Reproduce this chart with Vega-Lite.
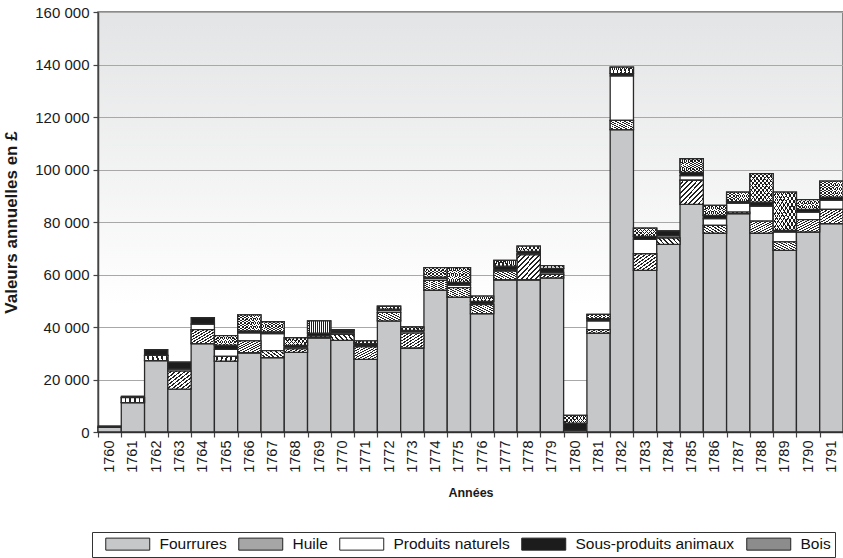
{
  "$schema": "https://vega.github.io/schema/vega-lite/v6.json",
  "width": 745,
  "height": 420,
  "autosize": {"type": "none"},
  "padding": {"left": 98, "top": 12, "right": 0, "bottom": 126},
  "background": "white",
  "config": {
    "font": "Liberation Sans",
    "view": {
      "stroke": "#666666",
      "strokeWidth": 1.5,
      "fill": {"gradient": "linear", "x1": 0, "y1": 0, "x2": 0, "y2": 1, "stops": [{"offset": 0, "color": "#e3e4e5"}, {"offset": 0.7, "color": "#ffffff"}, {"offset": 1, "color": "#ffffff"}]}
    },
    "axis": {
      "domainColor": "#444444",
      "domainWidth": 1.5,
      "tickColor": "#444444",
      "tickWidth": 1.2,
      "tickSize": 5,
      "labelColor": "#1a1a1a",
      "titleColor": "#1a1a1a",
      "titleFontWeight": "bold"
    }
  },
  "data": {
    "values": [
      {"year": "1760", "Fourrures": 1800, "Huile": 0, "Produits naturels": 0, "Sous-produits animaux": 400, "Bois": 0},
      {"year": "1761", "Fourrures": 11200, "Huile": 1900, "Produits naturels": 0, "Sous-produits animaux": 500, "Bois": 0},
      {"year": "1762", "Fourrures": 27200, "Huile": 2000, "Produits naturels": 0, "Sous-produits animaux": 2200, "Bois": 0},
      {"year": "1763", "Fourrures": 16300, "Huile": 6900, "Produits naturels": 800, "Sous-produits animaux": 2600, "Bois": 0},
      {"year": "1764", "Fourrures": 33700, "Huile": 5300, "Produits naturels": 2100, "Sous-produits animaux": 2500, "Bois": 0},
      {"year": "1765", "Fourrures": 27000, "Huile": 1800, "Produits naturels": 2700, "Sous-produits animaux": 1600, "Bois": 3600},
      {"year": "1766", "Fourrures": 30200, "Huile": 4500, "Produits naturels": 3100, "Sous-produits animaux": 700, "Bois": 6100},
      {"year": "1767", "Fourrures": 28300, "Huile": 2700, "Produits naturels": 6500, "Sous-produits animaux": 600, "Bois": 3900},
      {"year": "1768", "Fourrures": 30300, "Huile": 1400, "Produits naturels": 600, "Sous-produits animaux": 700, "Bois": 2900},
      {"year": "1769", "Fourrures": 35900, "Huile": 600, "Produits naturels": 0, "Sous-produits animaux": 1200, "Bois": 4600},
      {"year": "1770", "Fourrures": 34900, "Huile": 2300, "Produits naturels": 600, "Sous-produits animaux": 800, "Bois": 400},
      {"year": "1771", "Fourrures": 27700, "Huile": 4700, "Produits naturels": 300, "Sous-produits animaux": 1000, "Bois": 1000},
      {"year": "1772", "Fourrures": 42300, "Huile": 3300, "Produits naturels": 700, "Sous-produits animaux": 500, "Bois": 1100},
      {"year": "1773", "Fourrures": 32000, "Huile": 5700, "Produits naturels": 600, "Sous-produits animaux": 400, "Bois": 1300},
      {"year": "1774", "Fourrures": 54000, "Huile": 3800, "Produits naturels": 700, "Sous-produits animaux": 500, "Bois": 3600},
      {"year": "1775", "Fourrures": 51400, "Huile": 3600, "Produits naturels": 1000, "Sous-produits animaux": 1000, "Bois": 5600},
      {"year": "1776", "Fourrures": 45100, "Huile": 3400, "Produits naturels": 300, "Sous-produits animaux": 1000, "Bois": 2000},
      {"year": "1777", "Fourrures": 58000, "Huile": 3300, "Produits naturels": 500, "Sous-produits animaux": 1400, "Bois": 2200},
      {"year": "1778", "Fourrures": 58000, "Huile": 9500, "Produits naturels": 500, "Sous-produits animaux": 800, "Bois": 2000},
      {"year": "1779", "Fourrures": 58700, "Huile": 1400, "Produits naturels": 700, "Sous-produits animaux": 1500, "Bois": 1100},
      {"year": "1780", "Fourrures": 600, "Huile": 0, "Produits naturels": 0, "Sous-produits animaux": 2800, "Bois": 2900},
      {"year": "1781", "Fourrures": 37700, "Huile": 1300, "Produits naturels": 3300, "Sous-produits animaux": 900, "Bois": 1600},
      {"year": "1782", "Fourrures": 115200, "Huile": 3500, "Produits naturels": 17000, "Sous-produits animaux": 800, "Bois": 2500},
      {"year": "1783", "Fourrures": 61600, "Huile": 6300, "Produits naturels": 5500, "Sous-produits animaux": 1100, "Bois": 3200},
      {"year": "1784", "Fourrures": 71500, "Huile": 2400, "Produits naturels": 800, "Sous-produits animaux": 1900, "Bois": 0},
      {"year": "1785", "Fourrures": 86700, "Huile": 9200, "Produits naturels": 1800, "Sous-produits animaux": 1200, "Bois": 5200},
      {"year": "1786", "Fourrures": 75800, "Huile": 2900, "Produits naturels": 2600, "Sous-produits animaux": 1200, "Bois": 3800},
      {"year": "1787", "Fourrures": 83200, "Huile": 600, "Produits naturels": 3400, "Sous-produits animaux": 600, "Bois": 3600},
      {"year": "1788", "Fourrures": 75800, "Huile": 4500, "Produits naturels": 5800, "Sous-produits animaux": 1500, "Bois": 10800},
      {"year": "1789", "Fourrures": 69200, "Huile": 3200, "Produits naturels": 3800, "Sous-produits animaux": 600, "Bois": 14600},
      {"year": "1790", "Fourrures": 76200, "Huile": 4700, "Produits naturels": 2900, "Sous-produits animaux": 1000, "Bois": 3700},
      {"year": "1791", "Fourrures": 79400, "Huile": 5400, "Produits naturels": 3500, "Sous-produits animaux": 1200, "Bois": 6100}
    ]
  },
  "transform": [
    {"fold": ["Fourrures", "Huile", "Produits naturels", "Sous-produits animaux", "Bois"], "as": ["cat", "v"]},
    {"calculate": "indexof(['Fourrures', 'Huile', 'Produits naturels', 'Sous-produits animaux', 'Bois'], datum.cat)", "as": "k"}
  ],
  "encoding": {
    "x": {
      "field": "year",
      "type": "ordinal",
      "scale": {"paddingInner": 0, "paddingOuter": 0},
      "axis": {
        "title": "Années",
        "titleFontSize": 12.5,
        "titlePadding": 14,
        "labelAngle": 270,
        "labelFontSize": 14.5,
        "labelPadding": 3,
        "tickBand": "extent",
        "grid": false
      }
    }
  },
  "layer": [
    {
      "mark": {"type": "bar", "stroke": "#2a2a2a", "strokeWidth": 1.3},
      "encoding": {
        "y": {
          "field": "v",
          "type": "quantitative",
          "stack": "zero",
          "title": "Valeurs annuelles en £",
          "scale": {"domain": [0, 160000], "nice": false},
          "axis": {
            "titleFontSize": 17,
            "titlePadding": 14,
            "values": [0, 20000, 40000, 60000, 80000, 100000, 120000, 140000, 160000],
            "labelExpr": "replace(format(datum.value, ','), ',', ' ')",
            "labelFontSize": 15,
            "labelPadding": 4,
            "grid": true,
            "gridColor": "#a8a8a8",
            "gridWidth": 1
          }
        },
        "order": {"field": "k", "type": "quantitative", "sort": "ascending"},
        "color": {
          "field": "cat",
          "type": "nominal",
          "sort": ["Fourrures", "Huile", "Produits naturels", "Sous-produits animaux", "Bois"],
          "scale": {
            "domain": ["Fourrures", "Huile", "Produits naturels", "Sous-produits animaux", "Bois"],
            "range": ["#c6c7c9", "#a6a6a6", "#ffffff", "#1c1c1c", "#8c8c8c"]
          },
          "legend": {
            "orient": "none",
            "legendX": -6,
            "legendY": 520,
            "direction": "horizontal",
            "columns": 5,
            "title": " ",
            "titleOrient": "left",
            "titleFontSize": 1,
            "titlePadding": 8,
            "symbolType": "M-1,-1H6.333V1H-1Z",
            "symbolSize": 144,
            "symbolStrokeColor": "#222222",
            "symbolStrokeWidth": 1,
            "symbolOpacity": 1,
            "labelFontSize": 15.5,
            "labelColor": "#111111",
            "labelOffset": 40,
            "columnPadding": 9,
            "padding": 4,
            "strokeColor": "#333333",
            "fillColor": "#ffffff",
            "encode": {
              "symbols": {
                "update": {
                  "fill": {"signal": "datum.value === 'Huile' ? {gradient: 'linear', x1: 0, y1: 0, x2: 1.1846, y2: 0.323, stops: [{offset: 0, color: '#ffffff'}, {offset: 0.05, color: '#ffffff'}, {offset: 0.05, color: '#222222'}, {offset: 0.0833, color: '#222222'}, {offset: 0.0833, color: '#ffffff'}, {offset: 0.1333, color: '#ffffff'}, {offset: 0.1333, color: '#222222'}, {offset: 0.1667, color: '#222222'}, {offset: 0.1667, color: '#ffffff'}, {offset: 0.2167, color: '#ffffff'}, {offset: 0.2167, color: '#222222'}, {offset: 0.25, color: '#222222'}, {offset: 0.25, color: '#ffffff'}, {offset: 0.3, color: '#ffffff'}, {offset: 0.3, color: '#222222'}, {offset: 0.3333, color: '#222222'}, {offset: 0.3333, color: '#ffffff'}, {offset: 0.3833, color: '#ffffff'}, {offset: 0.3833, color: '#222222'}, {offset: 0.4167, color: '#222222'}, {offset: 0.4167, color: '#ffffff'}, {offset: 0.4667, color: '#ffffff'}, {offset: 0.4667, color: '#222222'}, {offset: 0.5, color: '#222222'}, {offset: 0.5, color: '#ffffff'}, {offset: 0.55, color: '#ffffff'}, {offset: 0.55, color: '#222222'}, {offset: 0.5833, color: '#222222'}, {offset: 0.5833, color: '#ffffff'}, {offset: 0.6333, color: '#ffffff'}, {offset: 0.6333, color: '#222222'}, {offset: 0.6667, color: '#222222'}, {offset: 0.6667, color: '#ffffff'}, {offset: 0.7167, color: '#ffffff'}, {offset: 0.7167, color: '#222222'}, {offset: 0.75, color: '#222222'}, {offset: 0.75, color: '#ffffff'}, {offset: 0.8, color: '#ffffff'}, {offset: 0.8, color: '#222222'}, {offset: 0.8333, color: '#222222'}, {offset: 0.8333, color: '#ffffff'}, {offset: 0.8833, color: '#ffffff'}, {offset: 0.8833, color: '#222222'}, {offset: 0.9167, color: '#222222'}, {offset: 0.9167, color: '#ffffff'}, {offset: 0.9667, color: '#ffffff'}, {offset: 0.9667, color: '#222222'}, {offset: 1, color: '#222222'}]} : scale('color', datum.value)"},
                  "stroke": {"value": "#222222"},
                  "strokeWidth": {"value": 1},
                  "opacity": {"value": 1}
                }
              }
            }
          }
        }
      }
    },
    {
      "transform": [
        {"stack": "v", "groupby": ["year"], "sort": [{"field": "k", "order": "ascending"}], "as": ["s0", "s1"]},
        {"filter": "datum.cat === 'Huile' && datum.v > 0"}
      ],
      "mark": {
        "type": "bar",
        "stroke": "#2a2a2a",
        "strokeWidth": 1.3,
        "fill": {"gradient": "linear", "x1": 0, "y1": 0, "x2": 1, "y2": 1, "stops": [
          {"offset": 0, "color": "#ffffff"}, {"offset": 0.06, "color": "#ffffff"}, {"offset": 0.06, "color": "#222222"}, {"offset": 0.1, "color": "#222222"},
          {"offset": 0.1, "color": "#ffffff"}, {"offset": 0.16, "color": "#ffffff"}, {"offset": 0.16, "color": "#222222"}, {"offset": 0.2, "color": "#222222"},
          {"offset": 0.2, "color": "#ffffff"}, {"offset": 0.26, "color": "#ffffff"}, {"offset": 0.26, "color": "#222222"}, {"offset": 0.3, "color": "#222222"},
          {"offset": 0.3, "color": "#ffffff"}, {"offset": 0.36, "color": "#ffffff"}, {"offset": 0.36, "color": "#222222"}, {"offset": 0.4, "color": "#222222"},
          {"offset": 0.4, "color": "#ffffff"}, {"offset": 0.46, "color": "#ffffff"}, {"offset": 0.46, "color": "#222222"}, {"offset": 0.5, "color": "#222222"},
          {"offset": 0.5, "color": "#ffffff"}, {"offset": 0.56, "color": "#ffffff"}, {"offset": 0.56, "color": "#222222"}, {"offset": 0.6, "color": "#222222"},
          {"offset": 0.6, "color": "#ffffff"}, {"offset": 0.66, "color": "#ffffff"}, {"offset": 0.66, "color": "#222222"}, {"offset": 0.7, "color": "#222222"},
          {"offset": 0.7, "color": "#ffffff"}, {"offset": 0.76, "color": "#ffffff"}, {"offset": 0.76, "color": "#222222"}, {"offset": 0.8, "color": "#222222"},
          {"offset": 0.8, "color": "#ffffff"}, {"offset": 0.86, "color": "#ffffff"}, {"offset": 0.86, "color": "#222222"}, {"offset": 0.9, "color": "#222222"},
          {"offset": 0.9, "color": "#ffffff"}, {"offset": 0.96, "color": "#ffffff"}, {"offset": 0.96, "color": "#222222"}, {"offset": 1, "color": "#222222"}
        ]}
      },
      "encoding": {
        "y": {"field": "s1", "type": "quantitative", "title": "Valeurs annuelles en £"},
        "y2": {"field": "s0"}
      }
    },
    {
      "transform": [
        {"stack": "v", "groupby": ["year"], "sort": [{"field": "k", "order": "ascending"}], "as": ["s0", "s1"]},
        {"filter": "datum.cat === 'Bois' && datum.v > 0"}
      ],
      "mark": {
        "type": "bar",
        "strokeWidth": 0,
        "fill": {"gradient": "linear", "x1": 0, "y1": 0, "x2": 1, "y2": 1, "stops": [
          {"offset": 0, "color": "#ffffff"}, {"offset": 0.06, "color": "#ffffff"}, {"offset": 0.06, "color": "#1e1e1e"}, {"offset": 0.0833, "color": "#1e1e1e"},
          {"offset": 0.0833, "color": "#ffffff"}, {"offset": 0.1433, "color": "#ffffff"}, {"offset": 0.1433, "color": "#1e1e1e"}, {"offset": 0.1667, "color": "#1e1e1e"},
          {"offset": 0.1667, "color": "#ffffff"}, {"offset": 0.2267, "color": "#ffffff"}, {"offset": 0.2267, "color": "#1e1e1e"}, {"offset": 0.25, "color": "#1e1e1e"},
          {"offset": 0.25, "color": "#ffffff"}, {"offset": 0.31, "color": "#ffffff"}, {"offset": 0.31, "color": "#1e1e1e"}, {"offset": 0.3333, "color": "#1e1e1e"},
          {"offset": 0.3333, "color": "#ffffff"}, {"offset": 0.3933, "color": "#ffffff"}, {"offset": 0.3933, "color": "#1e1e1e"}, {"offset": 0.4167, "color": "#1e1e1e"},
          {"offset": 0.4167, "color": "#ffffff"}, {"offset": 0.4767, "color": "#ffffff"}, {"offset": 0.4767, "color": "#1e1e1e"}, {"offset": 0.5, "color": "#1e1e1e"},
          {"offset": 0.5, "color": "#ffffff"}, {"offset": 0.56, "color": "#ffffff"}, {"offset": 0.56, "color": "#1e1e1e"}, {"offset": 0.5833, "color": "#1e1e1e"},
          {"offset": 0.5833, "color": "#ffffff"}, {"offset": 0.6433, "color": "#ffffff"}, {"offset": 0.6433, "color": "#1e1e1e"}, {"offset": 0.6667, "color": "#1e1e1e"},
          {"offset": 0.6667, "color": "#ffffff"}, {"offset": 0.7267, "color": "#ffffff"}, {"offset": 0.7267, "color": "#1e1e1e"}, {"offset": 0.75, "color": "#1e1e1e"},
          {"offset": 0.75, "color": "#ffffff"}, {"offset": 0.81, "color": "#ffffff"}, {"offset": 0.81, "color": "#1e1e1e"}, {"offset": 0.8333, "color": "#1e1e1e"},
          {"offset": 0.8333, "color": "#ffffff"}, {"offset": 0.8933, "color": "#ffffff"}, {"offset": 0.8933, "color": "#1e1e1e"}, {"offset": 0.9167, "color": "#1e1e1e"},
          {"offset": 0.9167, "color": "#ffffff"}, {"offset": 0.9767, "color": "#ffffff"}, {"offset": 0.9767, "color": "#1e1e1e"}, {"offset": 1, "color": "#1e1e1e"}
        ]}
      },
      "encoding": {
        "y": {"field": "s1", "type": "quantitative", "title": "Valeurs annuelles en £"},
        "y2": {"field": "s0"}
      }
    },
    {
      "transform": [
        {"stack": "v", "groupby": ["year"], "sort": [{"field": "k", "order": "ascending"}], "as": ["s0", "s1"]},
        {"filter": "datum.cat === 'Bois' && datum.v > 0"}
      ],
      "mark": {
        "type": "bar",
        "stroke": "#2a2a2a",
        "strokeWidth": 1.3,
        "fill": {"gradient": "linear", "x1": 0, "y1": 1, "x2": 1, "y2": 0, "stops": [
          {"offset": 0, "color": "transparent"}, {"offset": 0.06, "color": "transparent"}, {"offset": 0.06, "color": "#1e1e1e"}, {"offset": 0.0833, "color": "#1e1e1e"},
          {"offset": 0.0833, "color": "transparent"}, {"offset": 0.1433, "color": "transparent"}, {"offset": 0.1433, "color": "#1e1e1e"}, {"offset": 0.1667, "color": "#1e1e1e"},
          {"offset": 0.1667, "color": "transparent"}, {"offset": 0.2267, "color": "transparent"}, {"offset": 0.2267, "color": "#1e1e1e"}, {"offset": 0.25, "color": "#1e1e1e"},
          {"offset": 0.25, "color": "transparent"}, {"offset": 0.31, "color": "transparent"}, {"offset": 0.31, "color": "#1e1e1e"}, {"offset": 0.3333, "color": "#1e1e1e"},
          {"offset": 0.3333, "color": "transparent"}, {"offset": 0.3933, "color": "transparent"}, {"offset": 0.3933, "color": "#1e1e1e"}, {"offset": 0.4167, "color": "#1e1e1e"},
          {"offset": 0.4167, "color": "transparent"}, {"offset": 0.4767, "color": "transparent"}, {"offset": 0.4767, "color": "#1e1e1e"}, {"offset": 0.5, "color": "#1e1e1e"},
          {"offset": 0.5, "color": "transparent"}, {"offset": 0.56, "color": "transparent"}, {"offset": 0.56, "color": "#1e1e1e"}, {"offset": 0.5833, "color": "#1e1e1e"},
          {"offset": 0.5833, "color": "transparent"}, {"offset": 0.6433, "color": "transparent"}, {"offset": 0.6433, "color": "#1e1e1e"}, {"offset": 0.6667, "color": "#1e1e1e"},
          {"offset": 0.6667, "color": "transparent"}, {"offset": 0.7267, "color": "transparent"}, {"offset": 0.7267, "color": "#1e1e1e"}, {"offset": 0.75, "color": "#1e1e1e"},
          {"offset": 0.75, "color": "transparent"}, {"offset": 0.81, "color": "transparent"}, {"offset": 0.81, "color": "#1e1e1e"}, {"offset": 0.8333, "color": "#1e1e1e"},
          {"offset": 0.8333, "color": "transparent"}, {"offset": 0.8933, "color": "transparent"}, {"offset": 0.8933, "color": "#1e1e1e"}, {"offset": 0.9167, "color": "#1e1e1e"},
          {"offset": 0.9167, "color": "transparent"}, {"offset": 0.9767, "color": "transparent"}, {"offset": 0.9767, "color": "#1e1e1e"}, {"offset": 1, "color": "#1e1e1e"}
        ]}
      },
      "encoding": {
        "y": {"field": "s1", "type": "quantitative", "title": "Valeurs annuelles en £"},
        "y2": {"field": "s0"}
      }
    }
  ]
}
